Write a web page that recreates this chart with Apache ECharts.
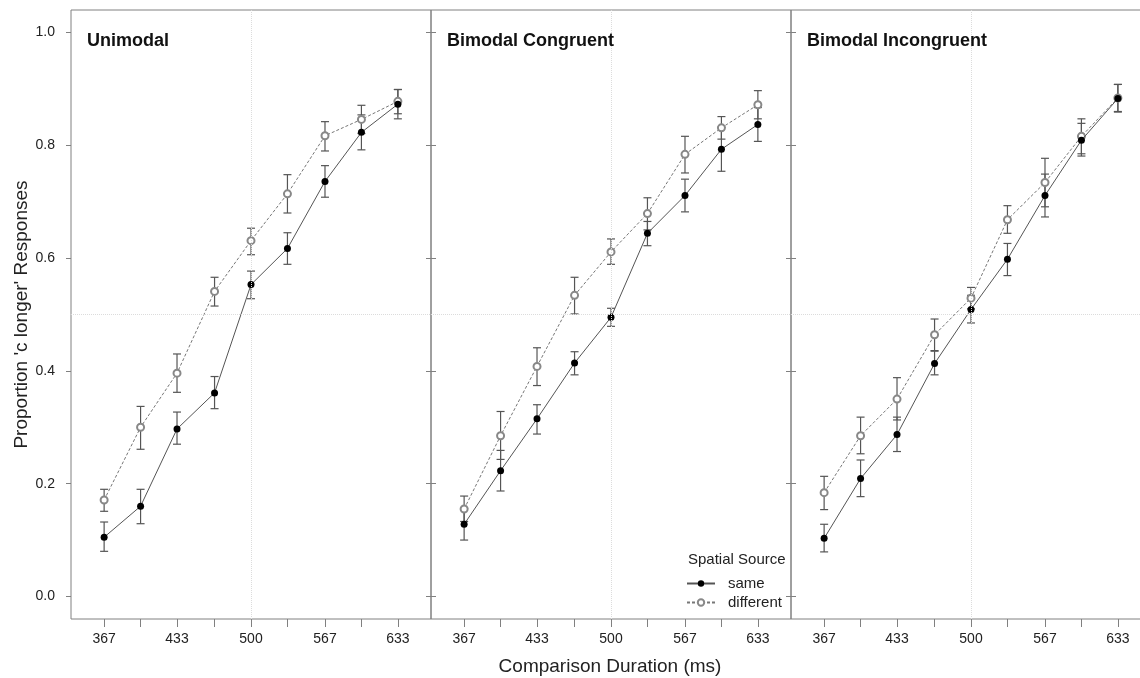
<!DOCTYPE html>
<html>
<head>
<meta charset="utf-8">
<script src="https://cdn.jsdelivr.net/npm/echarts@6/dist/echarts.min.js"></script>
<style>
  html, body { margin: 0; padding: 0; background: #fff; overflow: hidden; }
  #chart { width: 1152px; height: 678px; }
</style>
</head>
<body>
<div id="chart"></div>
<script>
// comparison durations (ms) and tick labels
var durations = [367, 400, 433, 467, 500, 533, 567, 600, 633]
var xTickLabels = [367, 433, 500, 567, 633]
var yTicks = [0, 0.2, 0.4, 0.6, 0.8, 1.0]
var panelTitles = ['Unimodal', 'Bimodal Congruent', 'Bimodal Incongruent']

// Unimodal
var uniSame   = [0.105, 0.160, 0.297, 0.361, 0.553, 0.617, 0.736, 0.823, 0.873]
var uniSameLo = [0.080, 0.129, 0.270, 0.333, 0.528, 0.589, 0.708, 0.792, 0.847]
var uniSameHi = [0.132, 0.190, 0.327, 0.390, 0.577, 0.645, 0.764, 0.854, 0.899]
var uniDiff   = [0.171, 0.300, 0.396, 0.541, 0.631, 0.714, 0.817, 0.846, 0.878]
var uniDiffLo = [0.151, 0.261, 0.362, 0.515, 0.606, 0.680, 0.790, 0.821, 0.856]
var uniDiffHi = [0.190, 0.337, 0.430, 0.566, 0.653, 0.748, 0.842, 0.871, 0.899]

// Bimodal Congruent
var congSame   = [0.128, 0.223, 0.315, 0.414, 0.495, 0.644, 0.711, 0.793, 0.837]
var congSameLo = [0.100, 0.187, 0.288, 0.393, 0.479, 0.622, 0.682, 0.754, 0.807]
var congSameHi = [0.156, 0.259, 0.340, 0.434, 0.511, 0.665, 0.740, 0.832, 0.867]
var congDiff   = [0.155, 0.285, 0.408, 0.534, 0.611, 0.679, 0.784, 0.831, 0.872]
var congDiffLo = [0.133, 0.243, 0.374, 0.501, 0.589, 0.650, 0.751, 0.811, 0.847]
var congDiffHi = [0.178, 0.328, 0.441, 0.566, 0.634, 0.707, 0.816, 0.851, 0.897]

// Bimodal Incongruent
var incSame   = [0.103, 0.209, 0.287, 0.413, 0.509, 0.598, 0.711, 0.809, 0.883]
var incSameLo = [0.079, 0.177, 0.257, 0.393, 0.485, 0.569, 0.673, 0.781, 0.859]
var incSameHi = [0.128, 0.242, 0.318, 0.435, 0.534, 0.626, 0.749, 0.839, 0.908]
var incDiff   = [0.184, 0.285, 0.350, 0.464, 0.529, 0.668, 0.734, 0.816, 0.884]
var incDiffLo = [0.154, 0.253, 0.313, 0.436, 0.510, 0.644, 0.691, 0.785, 0.860]
var incDiffHi = [0.213, 0.318, 0.388, 0.492, 0.548, 0.693, 0.777, 0.847, 0.908]

var panels = [
  {same: uniSame, sameLo: uniSameLo, sameHi: uniSameHi, diff: uniDiff, diffLo: uniDiffLo, diffHi: uniDiffHi},
  {same: congSame, sameLo: congSameLo, sameHi: congSameHi, diff: congDiff, diffLo: congDiffLo, diffHi: congDiffHi},
  {same: incSame, sameLo: incSameLo, sameHi: incSameHi, diff: incDiff, diffLo: incDiffLo, diffHi: incDiffHi}
]

var font = 'Liberation Sans, Arial, Helvetica, sans-serif'
var frame = '#808080'

function pairs(ys) {
  return durations.map(function (d, i) { return [d, ys[i]] })
}
function triples(lo, hi) {
  return durations.map(function (d, i) { return [d, lo[i], hi[i]] })
}

function renderErr(params, api) {
  var x = api.value(0)
  var lo = api.coord([x, api.value(1)])
  var hi = api.coord([x, api.value(2)])
  var w = 4
  var st = {stroke: '#555', lineWidth: 1.2}
  return {
    type: 'group',
    children: [
      {type: 'line', shape: {x1: lo[0], y1: lo[1], x2: hi[0], y2: hi[1]}, style: st},
      {type: 'line', shape: {x1: lo[0] - w, y1: lo[1], x2: lo[0] + w, y2: lo[1]}, style: st},
      {type: 'line', shape: {x1: hi[0] - w, y1: hi[1], x2: hi[0] + w, y2: hi[1]}, style: st}
    ]
  }
}

var grids = [], xAxes = [], yAxes = [], series = [], titles = []

panels.forEach(function (p, i) {
  grids.push({
    left: 71 + i * 360, top: 10, width: 360, height: 609,
    outerBoundsMode: 'none',
    show: true, borderColor: frame, borderWidth: 1
  })
  xAxes.push({
    type: 'value', gridIndex: i, min: 337, max: 663, position: 'bottom',
    axisLine: {show: false, onZero: false},
    splitLine: {show: false},
    axisTick: {show: true, customValues: durations, length: 8, lineStyle: {color: frame}},
    axisLabel: {
      customValues: xTickLabels, margin: 13, fontSize: 14, color: '#222', fontFamily: font,
      formatter: function (v) { return String(Math.round(v)) }
    }
  })
  yAxes.push({
    type: 'value', gridIndex: i, min: -0.04, max: 1.04, position: 'left',
    axisLine: {show: false, onZero: false},
    splitLine: {show: false},
    axisTick: {show: true, customValues: yTicks, length: 5, lineStyle: {color: frame}},
    axisLabel: {
      show: i === 0, customValues: yTicks, margin: 16, fontSize: 14, color: '#222', fontFamily: font,
      formatter: function (v) { return v.toFixed(1) }
    },
    name: i === 0 ? "Proportion 'c longer' Responses" : '',
    nameLocation: 'middle', nameGap: 40,
    nameTextStyle: {fontSize: 19, color: '#222', fontFamily: font}
  })
  yAxes.push({
    type: 'value', gridIndex: i, min: -0.04, max: 1.04, position: 'right',
    axisLine: {show: false, onZero: false},
    splitLine: {show: false},
    axisTick: {show: true, customValues: yTicks, length: 5, lineStyle: {color: frame}},
    axisLabel: {show: false, customValues: yTicks}
  })

  var yi = i * 2
  series.push({
    name: 'same-err', type: 'custom', xAxisIndex: i, yAxisIndex: yi,
    renderItem: renderErr, encode: {x: 0, y: [1, 2]},
    data: triples(p.sameLo, p.sameHi), z: 2, silent: true
  })
  series.push({
    name: 'different-err', type: 'custom', xAxisIndex: i, yAxisIndex: yi,
    renderItem: renderErr, encode: {x: 0, y: [1, 2]},
    data: triples(p.diffLo, p.diffHi), z: 2, silent: true
  })
  series.push({
    name: 'different', type: 'line', xAxisIndex: i, yAxisIndex: yi,
    data: pairs(p.diff), symbol: 'emptyCircle', symbolSize: 7,
    lineStyle: {color: '#777', width: 1, type: [3, 2]},
    itemStyle: {color: '#888', borderColor: '#888', borderWidth: 1},
    z: 3, animation: false, silent: true,
    markLine: {
      silent: true, symbol: ['none', 'none'], label: {show: false},
      lineStyle: {color: '#dcdcdc', type: 'dotted', width: 1},
      data: [{xAxis: 500}, {yAxis: 0.5}]
    }
  })
  series.push({
    name: 'same', type: 'line', xAxisIndex: i, yAxisIndex: yi,
    data: pairs(p.same), symbol: 'circle', symbolSize: 7,
    lineStyle: {color: '#555', width: 1},
    itemStyle: {color: '#000'},
    z: 4, animation: false, silent: true
  })

  titles.push({
    text: panelTitles[i], left: 87 + i * 360, top: 32, padding: 0,
    textStyle: {fontSize: 18, fontWeight: 'bold', color: '#111', fontFamily: font}
  })
})

titles.push({
  text: 'Spatial Source', left: 688, top: 552, padding: 0,
  textStyle: {fontSize: 15, fontWeight: 'normal', color: '#222', fontFamily: font}
})

var chart = echarts.init(document.getElementById('chart'), null, {renderer: 'canvas'})
chart.setOption({
  animation: false,
  backgroundColor: '#fff',
  title: titles,
  grid: grids,
  xAxis: xAxes,
  yAxis: yAxes,
  legend: {
    data: ['same', 'different'], orient: 'vertical', left: 686, top: 576, padding: 0,
    itemWidth: 28, itemHeight: 8, itemGap: 4,
    textStyle: {fontSize: 15, color: '#222', fontFamily: font, padding: [0, 0, 0, 8]},
    selectedMode: false
  },
  graphic: [{
    type: 'text', x: 610, y: 667,
    style: {
      text: 'Comparison Duration (ms)', fill: '#222', fontSize: 19, fontFamily: font,
      textAlign: 'center', textVerticalAlign: 'middle'
    }
  }],
  series: series
})
</script>
</body>
</html>
